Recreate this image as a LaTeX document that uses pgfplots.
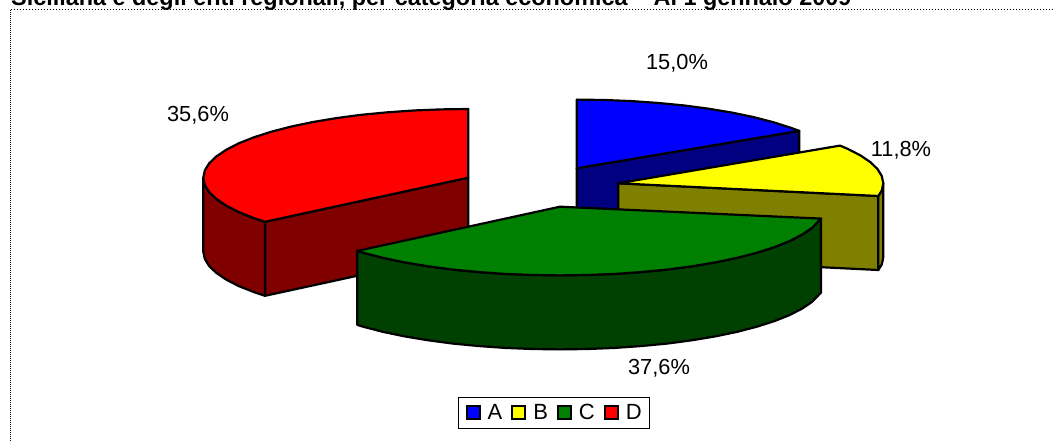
\documentclass[border=0pt]{standalone}
\usepackage{pgfplots}
\pgfplotsset{compat=1.18}
\usepackage{fontspec}
\setmainfont{Liberation Sans}
\definecolor{cA}{HTML}{0000FF}\definecolor{cAd}{HTML}{000080}
\definecolor{cB}{HTML}{FFFF00}\definecolor{cBd}{HTML}{808000}
\definecolor{cC}{HTML}{008000}\definecolor{cCd}{HTML}{004000}
\definecolor{cD}{HTML}{FF0000}\definecolor{cDd}{HTML}{800000}
\pgfplotsset{wedge/.style={draw=black,line width=2.2pt,line join=round,forget plot}}
\begin{document}
\begin{tikzpicture}
\path[use as bounding box] (0,0) rectangle (1054pt,441pt);
\begin{axis}[
  at={(0,0)},anchor=south west,
  scale only axis,width=1054pt,height=441pt,
  xmin=0,xmax=1054,ymin=0,ymax=441,y dir=reverse,
  hide axis,
  clip mode=global,
  legend style={at={(0.5258,0.0635)},anchor=center,draw=black,line width=1pt,
    legend columns=4,font=\fontsize{22}{22}\selectfont,
    inner xsep=7pt,inner ysep=6.5pt,
    /tikz/column 1/.style={column sep=6pt},
    /tikz/column 2/.style={column sep=8pt},
    /tikz/column 3/.style={column sep=6pt},
    /tikz/column 4/.style={column sep=8pt},
    /tikz/column 5/.style={column sep=6pt},
    /tikz/column 6/.style={column sep=8pt},
    /tikz/column 7/.style={column sep=6pt},
    nodes={inner sep=1pt}},
  legend image code/.code={\draw[#1,line width=2pt] (0cm,-6.5pt) rectangle (13pt,6.5pt);},
]
% frame
\addplot[forget plot,draw=black,line width=1.2pt,dash pattern=on 1pt off 1pt] coordinates {(10.5,441)(10.5,9.5)};
\addplot[forget plot,draw=black,line width=1pt,dash pattern=on 1.5pt off 1.5pt] coordinates {(10.5,9.5)(1054,9.5)};
% legend entries
\addlegendimage{fill=cA,draw=black}\addlegendentry{A}
\addlegendimage{fill=cB,draw=black}\addlegendentry{B}
\addlegendimage{fill=cC,draw=black}\addlegendentry{C\hspace{7pt}}
\addlegendimage{fill=cD,draw=black}\addlegendentry{D}
% D: red
\addplot[wedge,fill=cDd] coordinates {(265.0,221.8)(468.3,177.7)(468.3,251.7)(265.0,295.8)} --cycle;
\addplot[wedge,fill=cDd] coordinates {(203.3,177.7)(204.8,184.9)(209.1,192.0)(216.3,198.9)(226.2,205.6)(238.8,212.1)(253.9,218.1)(265.0,221.8)(265.0,295.8)(253.9,292.1)(238.8,286.1)(226.2,279.6)(216.3,272.9)(209.1,266.0)(204.8,258.9)(203.3,251.7)} --cycle;
\addplot[wedge,fill=cD] coordinates {(468.3,177.7)(468.3,109.0)(440.6,109.4)(413.2,110.5)(386.4,112.4)(360.5,114.9)(335.8,118.2)(312.5,122.1)(291.0,126.6)(271.4,131.7)(253.9,137.3)(238.8,143.3)(226.2,149.8)(216.3,156.5)(209.1,163.4)(204.8,170.5)(203.3,177.7)(204.8,184.9)(209.1,192.0)(216.3,198.9)(226.2,205.6)(238.8,212.1)(253.9,218.1)(265.0,221.8)} --cycle;
% A: blue
\addplot[wedge,fill=cAd] coordinates {(576.7,168.3)(799.3,130.9)(799.3,204.9)(576.7,242.3)} --cycle;
\addplot[wedge,fill=cA] coordinates {(576.7,168.3)(576.7,99.6)(604.4,100.0)(631.8,101.1)(658.6,103.0)(684.5,105.5)(709.2,108.8)(732.5,112.7)(754.0,117.2)(773.6,122.3)(791.1,127.9)(799.3,130.9)} --cycle;
% B: yellow
\addplot[wedge,fill=cBd] coordinates {(618.3,183.3)(878.3,196.0)(878.3,270.0)(618.3,257.3)} --cycle;
\addplot[wedge,fill=cBd] coordinates {(883.3,183.3)(881.8,190.5)(878.3,196.0)(878.3,270.0)(881.8,264.5)(883.3,257.3)} --cycle;
\addplot[wedge,fill=cB] coordinates {(618.3,183.3)(840.0,145.6)(847.8,148.9)(860.4,155.4)(870.3,162.1)(877.5,169.0)(881.8,176.1)(883.3,183.3)(881.8,190.5)(878.3,196.0)} --cycle;
% C: green
\addplot[wedge,fill=cCd] coordinates {(357.3,250.9)(363.1,252.7)(382.7,257.8)(404.2,262.3)(427.5,266.2)(452.2,269.5)(478.1,272.0)(504.9,273.9)(532.3,275.0)(560.0,275.4)(587.7,275.0)(615.1,273.9)(641.9,272.0)(667.8,269.5)(692.5,266.2)(715.8,262.3)(737.3,257.8)(756.9,252.7)(774.4,247.1)(789.5,241.1)(802.1,234.6)(812.0,227.9)(821.0,218.6)(821.0,292.6)(812.0,301.9)(802.1,308.6)(789.5,315.1)(774.4,321.1)(756.9,326.7)(737.3,331.8)(715.8,336.3)(692.5,340.2)(667.8,343.5)(641.9,346.0)(615.1,347.9)(587.7,349.0)(560.0,349.4)(532.3,349.0)(504.9,347.9)(478.1,346.0)(452.2,343.5)(427.5,340.2)(404.2,336.3)(382.7,331.8)(363.1,326.7)(357.3,324.9)} --cycle;
\addplot[wedge,fill=cC] coordinates {(560.0,206.7)(357.3,250.9)(363.1,252.7)(382.7,257.8)(404.2,262.3)(427.5,266.2)(452.2,269.5)(478.1,272.0)(504.9,273.9)(532.3,275.0)(560.0,275.4)(587.7,275.0)(615.1,273.9)(641.9,272.0)(667.8,269.5)(692.5,266.2)(715.8,262.3)(737.3,257.8)(756.9,252.7)(774.4,247.1)(789.5,241.1)(802.1,234.6)(812.0,227.9)(821.0,218.6)} --cycle;
% labels
\node[font=\fontsize{21.8}{22}\selectfont] at (axis cs:677,63.5) {15,0\%};
\node[font=\fontsize{21.8}{22}\selectfont] at (axis cs:901,150.5) {11,8\%};
\node[font=\fontsize{21.8}{22}\selectfont] at (axis cs:198,115.5) {35,6\%};
\node[font=\fontsize{21.8}{22}\selectfont] at (axis cs:659,368.5) {37,6\%};
\node[font=\fontsize{23.4}{24}\selectfont\bfseries,anchor=base west,inner sep=0pt] at (axis cs:11,5.5) {Siciliana e degli enti regionali, per categoria economica -- Al 1 gennaio 2009};
\end{axis}
\end{tikzpicture}
\end{document}
